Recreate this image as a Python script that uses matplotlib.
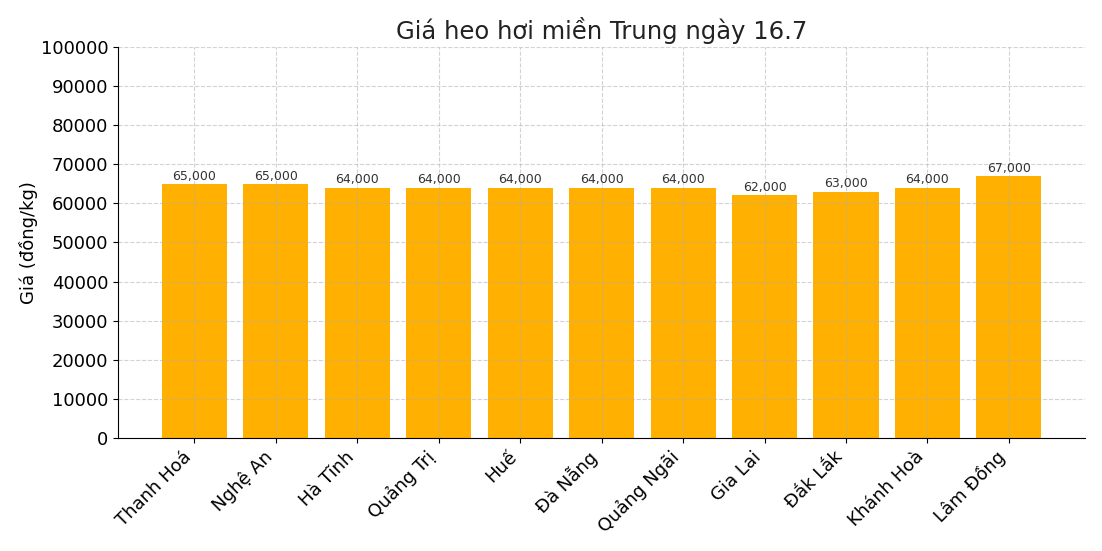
import numpy as np
import matplotlib.pyplot as plt

provinces = ['Thanh Hoá', 'Nghệ An', 'Hà Tĩnh', 'Quảng Trị', 'Huế', 'Đà Nẵng',
             'Quảng Ngãi', 'Gia Lai', 'Đắk Lắk', 'Khánh Hoà', 'Lâm Đồng']
prices = [65000, 65000, 64000, 64000, 64000, 64000, 64000, 62000, 63000, 64000, 67000]

fig = plt.figure(figsize=(11.02, 5.51), dpi=100)
ax = fig.add_axes([0.107, 0.205, 0.878, 0.710])

bars = ax.bar(provinces, prices, color='#FFB000')
for b, v in zip(bars, prices):
    ax.text(b.get_x() + b.get_width() / 2, v + 300, f'{v:,}',
            ha='center', va='bottom', fontsize=9, color='#333333')

ax.set_ylim(0, 100000)
ax.set_yticks(np.arange(0, 100001, 10000))
ax.tick_params(axis='y', labelsize=13)
ax.tick_params(axis='x', labelsize=13)
plt.setp(ax.get_xticklabels(), rotation=45, ha='right')
ax.set_ylabel('Giá (đồng/kg)', fontsize=13, labelpad=2)
ax.set_title('Giá heo hơi miền Trung ngày 16.7', fontsize=17.5, color='#222222')
ax.grid(True, linestyle='--', alpha=0.55)
ax.spines['top'].set_visible(False)
ax.spines['right'].set_visible(False)

fig.savefig('out.png', dpi=100)
